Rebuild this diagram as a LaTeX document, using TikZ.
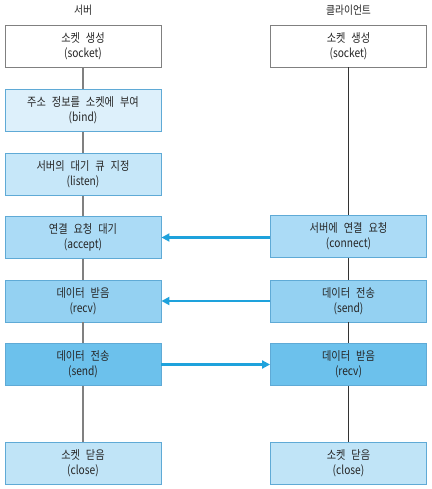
\documentclass[tikz,border=0pt]{standalone}
\usepackage{fontspec}
\setmainfont[FakeStretch=0.85,WordSpace=2.6]{Noto Sans CJK KR}
\usetikzlibrary{arrows.meta}
\definecolor{cA}{HTML}{DDF0FB}
\definecolor{cB}{HTML}{C6E7F9}
\definecolor{cC}{HTML}{ABDBF6}
\definecolor{cD}{HTML}{94D1F2}
\definecolor{cE}{HTML}{6CC1EC}
\definecolor{cF}{HTML}{C0E4F7}
\definecolor{bord}{HTML}{5FAAD6}
\definecolor{arr}{HTML}{1EA2DC}
\tikzset{
  box/.style={draw=bord, line width=0.9pt, minimum width=156pt, minimum height=42pt,
    align=center, font=\fontsize{12}{15}\selectfont, text=black!85, inner sep=0pt},
  wbox/.style={box, draw=black!50, fill=white},
  title/.style={font=\fontsize{11.5}{12}\selectfont, text=black!85},
  lconn/.style={draw=black!50, line width=1.3pt},
  rconn/.style={draw=black!80, line width=0.8pt},
  flow/.style={draw=arr, line width=2.2pt, -{Triangle[length=8pt,width=8pt]}}
}
\begin{document}
\begin{tikzpicture}[x=1pt,y=-1pt]
\useasboundingbox (0,0) rectangle (431,489);
\node[title] (ts) at (83,10) {서버};
\node[title] (tc) at (348.5,10) {클라이언트};
% server
\node[wbox] (s1) at (83,46) {소켓 생성\\(socket)};
\node[box, fill=cA] (s2) at (83,110.5) {주소 정보를 소켓에 부여\\(bind)};
\node[box, fill=cB] (s3) at (83,174.5) {서버의 대기 큐 지정\\(listen)};
\node[box, fill=cC] (s4) at (83,237.5) {연결 요청 대기\\(accept)};
\node[box, fill=cD] (s5) at (83,301) {데이터 받음\\(recv)};
\node[box, fill=cE] (s6) at (83,364.5) {데이터 전송\\(send)};
\node[box, fill=cF] (s7) at (83,463.5) {소켓 닫음\\(close)};
% client
\node[wbox] (c1) at (348.5,46) {소켓 생성\\(socket)};
\node[box, fill=cC] (c2) at (348.5,236.5) {서버에 연결 요청\\(connect)};
\node[box, fill=cD] (c3) at (348.5,301) {데이터 전송\\(send)};
\node[box, fill=cE] (c4) at (348.5,364.5) {데이터 받음\\(recv)};
\node[box, fill=cF] (c5) at (348.5,463.5) {소켓 닫음\\(close)};
% connectors
\draw[lconn] (s1) -- (s2);
\draw[lconn] (s2) -- (s3);
\draw[lconn] (s3) -- (s4);
\draw[lconn] (s4) -- (s5);
\draw[lconn] (s5) -- (s6);
\draw[lconn] (s6) -- (s7);
\draw[rconn] (c1) -- (c2);
\draw[rconn] (c2) -- (c3);
\draw[rconn] (c3) -- (c4);
\draw[rconn] (c4) -- (c5);
% arrows
\draw[flow] (c2.west |- s4.east) -- (s4.east);
\draw[flow] (c3.west) -- (s5.east);
\draw[flow] (s6.east) -- (c4.west);
\end{tikzpicture}
\end{document}
